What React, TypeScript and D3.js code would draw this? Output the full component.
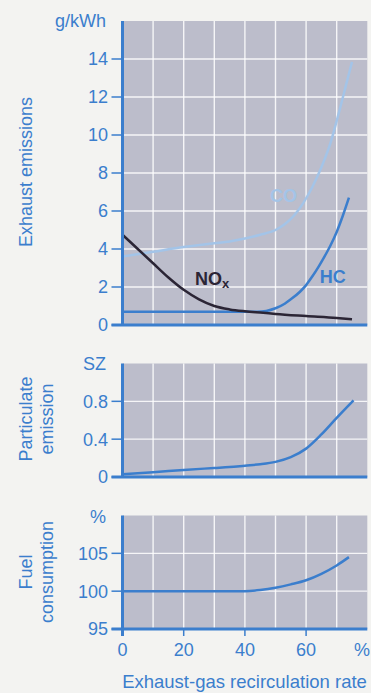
import * as d3 from 'd3';
import React from 'react';

// x: exhaust-gas recirculation rate (%)
const rateTicks = [0, 20, 40, 60];
const rateGrid = [10, 20, 30, 40, 50, 60, 70];

// exhaust emissions, g/kWh
const emissionTicks = [0, 2, 4, 6, 8, 10, 12, 14];
const coCurve: [number, number][] = [
  [0, 3.6], [10, 3.85], [20, 4.1], [30, 4.3], [35, 4.4], [40, 4.55], [45, 4.75],
  [50, 5.0], [53, 5.3], [56, 5.75], [59, 6.4], [62, 7.25], [65, 8.3], [68, 9.6],
  [71, 11.35], [73, 12.6], [75, 13.85],
];
const noxCurve: [number, number][] = [
  [0, 4.75], [5, 4.0], [10, 3.25], [15, 2.5], [20, 1.85], [25, 1.35], [30, 1.0],
  [35, 0.82], [40, 0.72], [46, 0.64], [50, 0.58], [60, 0.47], [70, 0.37], [75, 0.3],
];
const hcCurve: [number, number][] = [
  [0, 0.7], [44, 0.7], [47, 0.74], [50, 0.88], [53, 1.12], [55, 1.35], [58, 1.75],
  [60, 2.1], [62, 2.55], [64, 3.05], [66, 3.6], [68, 4.2], [70, 4.9], [72, 5.75], [74, 6.7],
];

// particulate emission, SZ
const sootTicks = [0, 0.4, 0.8];
const sootCurve: [number, number][] = [
  [0, 0.03], [10, 0.05], [20, 0.075], [30, 0.095], [35, 0.105], [40, 0.12], [45, 0.135],
  [50, 0.16], [55, 0.21], [60, 0.3], [65, 0.45], [70, 0.625], [75.5, 0.81],
];

// fuel consumption, %
const fuelTicks = [95, 100, 105];
const fuelCurve: [number, number][] = [
  [0, 100], [40, 100], [45, 100.15], [50, 100.45], [55, 100.9], [60, 101.45],
  [65, 102.3], [70, 103.4], [74, 104.5],
];

const BLUE = '#3b7ecd';
const LIGHT = '#a3c4e8';
const DARK = '#2b2535';
const PANEL = '#bcbdcb';
const PAGE = '#f3f3f1';
const FONT = '"Liberation Sans", Arial, sans-serif';
const FS = 18;

const x = d3.scaleLinear().domain([0, 80]).range([122.5, 367.3]);

function Panel(props: {
  y: d3.ScaleLinear<number, number>;
  ticks: number[];
  fmt: (v: number) => string;
  grid: number[];
  unit: string;
  unitY: number;
  bottomTicks?: boolean;
}) {
  const { y, ticks, fmt, grid, unit, unitY } = props;
  const [y0, y1] = y.range();
  return (
    <g>
      <rect x={x(0)} y={y1} width={x(80) - x(0)} height={y0 - y1} fill={PANEL} />
      {rateGrid.map(v => (
        <line key={'v' + v} x1={x(v)} x2={x(v)} y1={y1} y2={y0} stroke="#fff" strokeOpacity={0.85} strokeWidth={1.4} />
      ))}
      {grid.map(v => (
        <line key={'h' + v} x1={x(0)} x2={x(80)} y1={y(v)} y2={y(v)} stroke="#fff" strokeOpacity={0.85} strokeWidth={1.4} />
      ))}
      {ticks.map(v => (
        <g key={'t' + v}>
          <line x1={x(0) - 11} x2={x(0)} y1={y(v)} y2={y(v)} stroke={BLUE} strokeWidth={1.5} />
          <text x={108} y={y(v)} dy="0.36em" textAnchor="end" fill={BLUE} fontSize={FS} fontFamily={FONT}>{fmt(v)}</text>
        </g>
      ))}
      <text x={106} y={unitY} textAnchor="end" fill={BLUE} fontSize={FS} fontFamily={FONT}>{unit}</text>
      {props.bottomTicks && rateTicks.map(v => (
        <g key={'b' + v}>
          <line x1={x(v)} x2={x(v)} y1={y0} y2={y0 + 7} stroke={BLUE} strokeWidth={1.5} />
          <text x={x(v)} y={y0 + 27} textAnchor="middle" fill={BLUE} fontSize={FS} fontFamily={FONT}>{v}</text>
        </g>
      ))}
    </g>
  );
}

function Axes(props: { y: d3.ScaleLinear<number, number>; ext?: number }) {
  const [y0, y1] = props.y.range();
  return (
    <g>
      <line x1={x(0) - 11} x2={x(80)} y1={y0} y2={y0} stroke={BLUE} strokeWidth={3} />
      <line x1={x(0)} x2={x(0)} y1={y1} y2={y0 + (props.ext || 0)} stroke={BLUE} strokeWidth={3} />
    </g>
  );
}

export default function App() {
  const yEm = d3.scaleLinear().domain([0, 16]).range([325, 21]);
  const ySoot = d3.scaleLinear().domain([0, 1.2]).range([477, 363.5]);
  const yFuel = d3.scaleLinear().domain([95, 110]).range([629, 515.5]);

  const mk = (ys: d3.ScaleLinear<number, number>) =>
    d3.line<[number, number]>().x(d => x(d[0])).y(d => ys(d[1])).curve(d3.curveMonotoneX);

  const lineEm = mk(yEm);

  return (
    <svg width={371} height={693} style={{ position: 'absolute', left: 0, top: 0, display: 'block' }}>
      <rect width={371} height={693} fill={PAGE} />

      <Panel y={yEm} ticks={emissionTicks} fmt={v => String(v)} grid={[2, 4, 6, 8, 10, 12, 14]} unit="g/kWh" unitY={27} />
      <path d={lineEm(coCurve) || ''} fill="none" stroke={LIGHT} strokeWidth={2.5} />
      <path d={lineEm(hcCurve) || ''} fill="none" stroke={BLUE} strokeWidth={2.5} />
      <path d={lineEm(noxCurve) || ''} fill="none" stroke={DARK} strokeWidth={2.5} />
      <Axes y={yEm} />
      <text x={x(48.2)} y={yEm(6.45)} fill={LIGHT} fontSize={18} fontWeight="bold" fontFamily={FONT}>CO</text>
      <text x={x(23.7)} y={yEm(2.1)} fill={DARK} fontSize={18} fontWeight="bold" fontFamily={FONT}>
        NO<tspan fontSize={13} dy={3}>x</tspan>
      </text>
      <text x={x(64.5)} y={yEm(2.2)} fill={BLUE} fontSize={18} fontWeight="bold" fontFamily={FONT}>HC</text>

      <Panel y={ySoot} ticks={sootTicks} fmt={v => (v === 0 ? '0' : d3.format('.1f')(v))} grid={[0.4, 0.8]} unit="SZ" unitY={370} />
      <path d={mk(ySoot)(sootCurve) || ''} fill="none" stroke={BLUE} strokeWidth={2.5} />
      <Axes y={ySoot} />

      <Panel y={yFuel} ticks={fuelTicks} fmt={v => String(v)} grid={[100, 105]} unit="%" unitY={523} bottomTicks />
      <path d={mk(yFuel)(fuelCurve) || ''} fill="none" stroke={BLUE} strokeWidth={2.5} />
      <Axes y={yFuel} ext={7} />
      <text x={354} y={yFuel.range()[0] + 27} fill={BLUE} fontSize={FS} fontFamily={FONT}>%</text>

      <text x={244.5} y={688} textAnchor="middle" fill={BLUE} fontSize={18.5} fontFamily={FONT}>Exhaust-gas recirculation rate</text>

      <text transform={`translate(32,172) rotate(-90)`} textAnchor="middle" fill={BLUE} fontSize={FS} fontFamily={FONT}>Exhaust emissions</text>
      <text transform={`translate(32,419) rotate(-90)`} textAnchor="middle" fill={BLUE} fontSize={FS} fontFamily={FONT}>
        <tspan x={0} dy={0}>Particulate</tspan>
        <tspan x={0} dy={21}>emission</tspan>
      </text>
      <text transform={`translate(32,572) rotate(-90)`} textAnchor="middle" fill={BLUE} fontSize={FS} fontFamily={FONT}>
        <tspan x={0} dy={0}>Fuel</tspan>
        <tspan x={0} dy={21}>consumption</tspan>
      </text>
    </svg>
  );
}
